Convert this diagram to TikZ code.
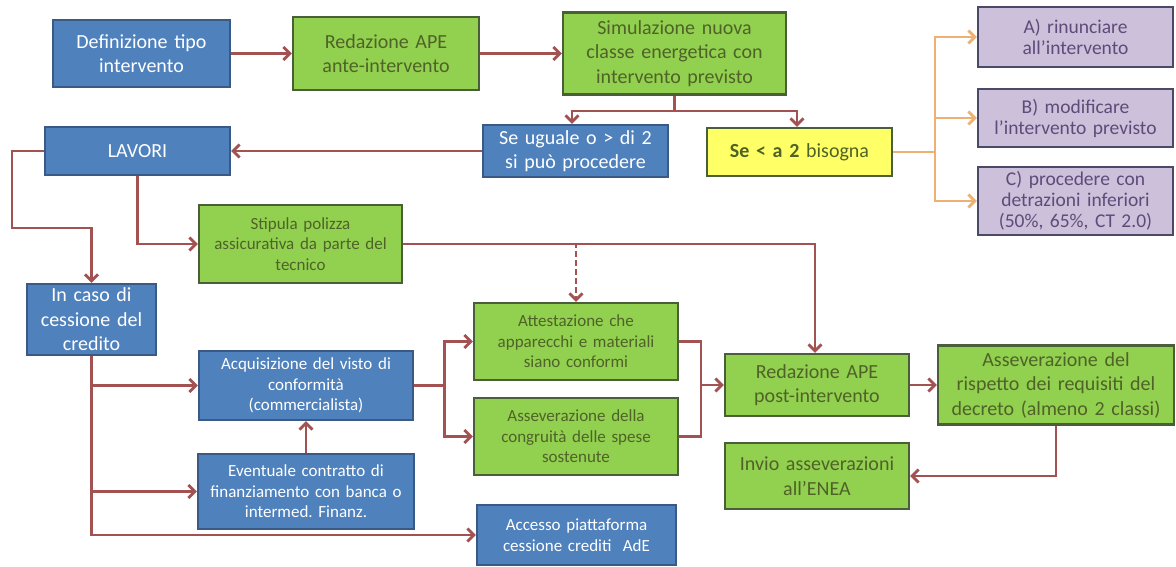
\documentclass[tikz,border=0pt]{standalone}
\usepackage{fontspec}
\setmainfont{Carlito}
\usetikzlibrary{arrows.meta}
\frenchspacing

\definecolor{boxblue}{HTML}{4F81BD}
\definecolor{blueline}{HTML}{3A5A85}
\definecolor{boxgreen}{HTML}{92D050}
\definecolor{greenline}{HTML}{4A5E3A}
\definecolor{greentext}{HTML}{4F6228}
\definecolor{boxlila}{HTML}{CCC0DA}
\definecolor{lilaline}{HTML}{4A4A68}
\definecolor{lilatext}{HTML}{5F4B7A}
\definecolor{boxyellow}{HTML}{FFFF66}
\definecolor{linkred}{HTML}{A35252}
\definecolor{linkorange}{HTML}{EDB173}

\newcommand\bigtxt{\fontsize{20}{24.5}\selectfont}
\newcommand\midtxt{\fontsize{19.5}{21}\selectfont}
\newcommand\smalltxt{\fontsize{17}{20.5}\selectfont}

\begin{document}
\begin{tikzpicture}[x=1pt,y=-1pt,
  every node/.style={inner xsep=0pt,inner ysep=2pt,align=center,line width=2.2pt},
  sz/.style 2 args={text width=#1,minimum height=#2},
  bluebox/.style={draw=blueline,fill=boxblue,text=white,font=\bigtxt},
  greenbox/.style={draw=greenline,fill=boxgreen,text=greentext,font=\bigtxt},
  lilabox/.style={draw=lilaline,fill=boxlila,text=lilatext,font=\midtxt},
  yellowbox/.style={draw=greenline,fill=boxyellow,text=greentext,font=\bigtxt},
  wire/.style={draw=linkred,line width=2.8pt},
  link/.style={wire,-{Straight Barb[length=6.5pt,width=13pt]}},
  orwire/.style={draw=linkorange,line width=2.8pt},
  orlink/.style={orwire,-{Straight Barb[length=6.5pt,width=13pt]}}]

\useasboundingbox[fill=white] (0,0) rectangle (1176,567);

% top row
\node[bluebox,sz={177pt}{67pt}] (defin) at (141.5,53.5) {Definizione tipo\\intervento};
\node[greenbox,sz={186pt}{73pt}] (apeante) at (386,53.5) {Redazione APE\\ante-intervento};
\node[greenbox,sz={223pt}{82pt}] (simul) at (674.5,53.5) {Simulazione nuova\\classe energetica con\\intervento previsto};

\node[bluebox,sz={185pt}{52pt}] (uguale) at (575.5,151) {Se uguale o > di 2\\si può procedere};
\node[yellowbox,sz={185pt}{48pt}] (minore) at (799.5,152) {\textbf{Se < a 2} bisogna};

\node[lilabox,sz={195pt}{60pt}] (optA) at (1075.5,37) {A) rinunciare\\all'intervento};
\node[lilabox,sz={195pt}{58pt}] (optB) at (1075.5,118) {B) modificare\\l'intervento previsto};
\node[lilabox,sz={195pt}{68pt}] (optC) at (1075.5,201) {C) procedere con\\detrazioni inferiori\\(50\%, 65\%, CT 2.0)};

% lavori and cessione
\node[bluebox,sz={185pt}{48pt}] (lavori) at (137.5,151) {LAVORI};
\node[greenbox,font=\smalltxt,sz={203pt}{78pt}] (polizza) at (300.5,244) {Stipula polizza\\assicurativa da parte del\\tecnico};
\node[bluebox,sz={129pt}{71pt}] (cessione) at (91.5,319.5) {In caso di\\cessione del\\credito};

\node[bluebox,font=\smalltxt,sz={214pt}{69pt}] (visto) at (306,385.5) {Acquisizione del visto di\\conformità\\(commercialista)};
\node[bluebox,font=\smalltxt,sz={216pt}{75pt}] (finanz) at (306,491.5) {Eventuale contratto di\\finanziamento con banca o\\intermed. Finanz.};
\node[bluebox,font=\fontsize{17}{21.5}\selectfont,sz={199pt}{60pt}] (accesso) at (576.5,535) {Accesso piattaforma\\cessione crediti~~AdE};

\node[greenbox,font=\smalltxt,sz={204pt}{77pt}] (attest) at (576,341.5) {Attestazione che\\apparecchi e materiali\\siano conformi};
\node[greenbox,font=\smalltxt,sz={204pt}{77pt}] (congru) at (576,436.5) {Asseverazione della\\congruità delle spese\\sostenute};

\node[greenbox,sz={184pt}{62pt}] (apepost) at (817,385) {Redazione APE\\post-intervento};
\node[greenbox,sz={184pt}{66pt}] (invio) at (817,476) {Invio asseverazioni\\all'ENEA};
\node[greenbox,sz={236pt}{79pt}] (rispetto) at (1056,385) {Asseverazione del\\rispetto dei requisiti del\\decreto (almeno 2 classi)};

% connectors
\draw[link] (defin) -- (apeante);
\draw[link] (apeante) -- (simul);
\draw[wire] (simul.south) -- ++(0,15.5) coordinate (fork);
\draw[link] (fork) -| ([xshift=-3.5pt]uguale.north);
\draw[link] (fork) -| ([xshift=-2.5pt]minore.north);
\draw[link] (uguale) -- (lavori);

\coordinate (split) at (935,152);
\draw[orwire] (minore) -- (split);
\foreach \o in {optA,optB,optC}
  \draw[orlink] (split) |- (\o.west);

\draw[link] (lavori.west) -- ++(-32,0) |- ([yshift=55pt]cessione.north) -- (cessione.north);
\draw[link] (lavori.south) |- (polizza.west);
\draw[link] (polizza.east) -| ([xshift=-2pt]apepost.north);
\draw[link,dash pattern=on 6pt off 3pt] (polizza.east) -| (attest.north);

\draw[link] (cessione.south) |- (accesso.west);
\draw[link] (cessione.south |- visto.west) -- (visto.west);
\draw[link] (cessione.south |- finanz.west) -- (finanz.west);
\draw[link] (finanz) -- (visto);

\draw[wire] (visto.east) -- ++(30,0) coordinate (vsplit);
\draw[link] (vsplit) |- (attest.west);
\draw[link] (vsplit) |- (congru.west);

\draw[wire] (attest.east) -| ([xshift=-23pt]apepost.west) |- (congru.east);
\draw[link] ([xshift=-23pt]apepost.west) -- (apepost.west);
\draw[link] (apepost) -- (rispetto);
\draw[link] (rispetto.south) |- (invio.east);

\end{tikzpicture}
\end{document}
